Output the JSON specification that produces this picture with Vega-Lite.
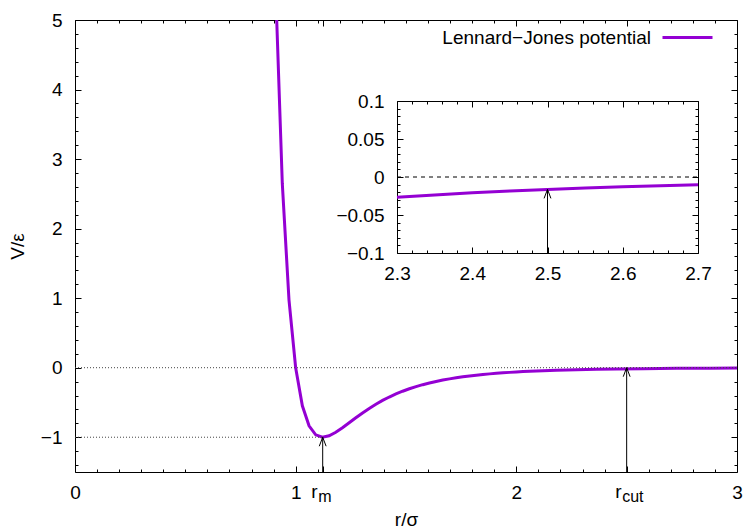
{
  "$schema": "https://vega.github.io/schema/vega-lite/v6.json",
  "width": 662,
  "height": 452,
  "autosize": {"type": "none"},
  "padding": {"left": 75, "top": 20, "right": 7, "bottom": 58},
  "background": "white",
  "config": {
    "view": {"stroke": null},
    "font": "Liberation Sans",
    "axis": {
      "labelFont": "Liberation Sans", "titleFont": "Liberation Sans",
      "labelFontSize": 19, "titleFontSize": 19, "titleFontWeight": "normal",
      "labelColor": "black", "titleColor": "black", "domainColor": "black", "tickColor": "black",
      "domainWidth": 1, "tickWidth": 1, "grid": false, "labelFlush": false, "labelOverlap": false, "labelBound": false
    },
    "text": {"font": "Liberation Sans", "color": "black"}
  },
  "datasets": {
    "lj": [
      {"r": 0.9091, "V": 5.4675}, {"r": 0.9394, "V": 2.6494}, {"r": 0.9697, "V": 0.9756}, {"r": 1.0, "V": 0},
      {"r": 1.0303, "V": -0.5484}, {"r": 1.0606, "V": -0.8359}, {"r": 1.0909, "V": -0.9652}, {"r": 1.1212, "V": -1.0},
      {"r": 1.1515, "V": -0.9798}, {"r": 1.1818, "V": -0.9293}, {"r": 1.2121, "V": -0.8635}, {"r": 1.2424, "V": -0.7919},
      {"r": 1.2727, "V": -0.7197}, {"r": 1.303, "V": -0.6503}, {"r": 1.3333, "V": -0.5852}, {"r": 1.3636, "V": -0.5254},
      {"r": 1.3939, "V": -0.4709}, {"r": 1.4242, "V": -0.4218}, {"r": 1.4545, "V": -0.3778}, {"r": 1.4848, "V": -0.3384},
      {"r": 1.5152, "V": -0.3033}, {"r": 1.5455, "V": -0.272}, {"r": 1.5758, "V": -0.2442}, {"r": 1.6061, "V": -0.2195},
      {"r": 1.6364, "V": -0.1975}, {"r": 1.6667, "V": -0.1779}, {"r": 1.697, "V": -0.1605}, {"r": 1.7273, "V": -0.145},
      {"r": 1.7576, "V": -0.1311}, {"r": 1.7879, "V": -0.1187}, {"r": 1.8182, "V": -0.1077}, {"r": 1.8485, "V": -0.0978},
      {"r": 1.8788, "V": -0.0889}, {"r": 1.9091, "V": -0.0809}, {"r": 1.9394, "V": -0.0738}, {"r": 1.9697, "V": -0.0673},
      {"r": 2.0, "V": -0.0615}, {"r": 2.0303, "V": -0.0563}, {"r": 2.0606, "V": -0.0516}, {"r": 2.0909, "V": -0.0473},
      {"r": 2.1212, "V": -0.0434}, {"r": 2.1818, "V": -0.0367}, {"r": 2.2727, "V": -0.0288}, {"r": 2.3636, "V": -0.0228},
      {"r": 2.4545, "V": -0.0182}, {"r": 2.5758, "V": -0.0137}, {"r": 2.7273, "V": -0.0097}, {"r": 2.8788, "V": -0.007},
      {"r": 3.0, "V": -0.0055}
    ],
    "inset": [
      {"r": 2.3, "V": -0.0268}, {"r": 2.35, "V": -0.0236}, {"r": 2.4, "V": -0.0208}, {"r": 2.45, "V": -0.0184},
      {"r": 2.5, "V": -0.0163}, {"r": 2.55, "V": -0.0145}, {"r": 2.6, "V": -0.0129}, {"r": 2.65, "V": -0.0115},
      {"r": 2.7, "V": -0.0103}
    ],
    "guides": [
      {"from": 0, "to": 3, "level": 0},
      {"from": 0, "to": 1.1225, "level": -1}
    ],
    "arrows": [
      {"r": 1.1225, "from": -1.5, "to": -1, "sub": "m"},
      {"r": 2.5, "from": -1.5, "to": 0, "sub": "cut"}
    ],
    "insetzero": [{"from": 2.3, "to": 2.7, "level": 0}],
    "insetarrow": [{"r": 2.5, "from": -0.1, "to": -0.0163}]
  },
  "layer": [
    {
      "data": {"name": "lj"},
      "mark": {"type": "line", "strokeWidth": 3, "clip": true},
      "encoding": {
        "x": {"field": "r", "type": "quantitative",
          "scale": {"domain": [0, 3], "nice": false, "zero": false},
          "axis": {"orient": "bottom", "values": [0, 1, 2, 3], "format": "d",
            "labelOverlap": false, "labelFlush": false,
            "tickSize": -6, "labelPadding": 17, "title": "r/σ", "titleX": 331, "titleY": 53, "titleBaseline": "alphabetic"}},
        "y": {"field": "V", "type": "quantitative",
          "scale": {"domain": [-1.5, 5], "nice": false, "zero": false},
          "axis": {"orient": "left", "values": [-1, 0, 1, 2, 3, 4, 5], "format": "d", "labelOverlap": false,
            "tickSize": -6, "labelPadding": 19, "title": "V/ε", "titleX": -58, "titleY": 226,
            "titleAngle": -90, "titleBaseline": "middle", "titleAlign": "center"}},
        "color": {"datum": "Lennard−Jones potential", "type": "nominal",
          "scale": {"range": ["#9400d3"]},
          "legend": {"orient": "none", "legendX": 586, "legendY": -9, "title": null, "symbolType": "stroke",
            "symbolSize": 2500, "symbolStrokeWidth": 3, "labelAlign": "right", "labelOffset": -63,
            "labelFontSize": 19, "labelFont": "Liberation Sans", "labelColor": "black", "padding": 0, "labelLimit": 400}}
      }
    },
    {
      "data": {"name": "guides"},
      "mark": {"type": "rule", "strokeDash": [1, 2], "color": "#444444", "strokeWidth": 1},
      "encoding": {
        "x": {"field": "from", "type": "quantitative",
          "scale": {"domain": [0, 3], "nice": false, "zero": false},
          "axis": {"orient": "bottom", "values": [0.1,0.2,0.3,0.4,0.5,0.6,0.7,0.8,0.9,1.1,1.2,1.3,1.4,1.5,1.6,1.7,1.8,1.9,2.1,2.2,2.3,2.4,2.5,2.6,2.7,2.8,2.9],
            "tickSize": -3, "labels": false, "domain": false, "title": null}},
        "x2": {"field": "to"},
        "y": {"field": "level", "type": "quantitative",
          "scale": {"domain": [-1.5, 5], "nice": false, "zero": false},
          "axis": {"orient": "left", "values": [-1.4,-1.2,-0.8,-0.6,-0.4,-0.2,0.2,0.4,0.6,0.8,1.2,1.4,1.6,1.8,2.2,2.4,2.6,2.8,3.2,3.4,3.6,3.8,4.2,4.4,4.6,4.8],
            "tickSize": -3, "labels": false, "domain": false, "title": null}}
      }
    },
    {
      "data": {"name": "arrows"},
      "mark": {"type": "rule", "color": "black", "strokeWidth": 1},
      "encoding": {
        "x": {"field": "r", "type": "quantitative",
          "scale": {"domain": [0, 3], "nice": false, "zero": false},
          "axis": {"orient": "top", "values": [0, 1, 1.1225, 2, 2.5, 3], "tickSize": -6, "labels": false, "title": null}},
        "y": {"field": "from", "type": "quantitative",
          "scale": {"domain": [-1.5, 5], "nice": false, "zero": false},
          "axis": {"orient": "right", "values": [-1, 0, 1, 2, 3, 4, 5], "tickSize": -6, "labels": false, "title": null}},
        "y2": {"field": "to"}
      }
    },
    {
      "data": {"name": "arrows"},
      "mark": {"type": "point", "shape": "M-0.38,1L0,0L0.38,1", "size": 324, "filled": false, "color": "black", "strokeWidth": 1, "opacity": 1},
      "encoding": {
        "x": {"field": "r", "type": "quantitative",
          "scale": {"domain": [0, 3], "nice": false, "zero": false},
          "axis": {"orient": "top", "values": [0.1,0.2,0.3,0.4,0.5,0.6,0.7,0.8,0.9,1.1,1.2,1.3,1.4,1.5,1.6,1.7,1.8,1.9,2.1,2.2,2.3,2.4,2.5,2.6,2.7,2.8,2.9],
            "tickSize": -3, "labels": false, "domain": false, "title": null}},
        "y": {"field": "to", "type": "quantitative",
          "scale": {"domain": [-1.5, 5], "nice": false, "zero": false},
          "axis": {"orient": "right", "values": [-1.4,-1.2,-0.8,-0.6,-0.4,-0.2,0.2,0.4,0.6,0.8,1.2,1.4,1.6,1.8,2.2,2.4,2.6,2.8,3.2,3.4,3.6,3.8,4.2,4.4,4.6,4.8],
            "tickSize": -3, "labels": false, "domain": false, "title": null}}
      }
    },
    {
      "data": {"name": "arrows"},
      "mark": {"type": "text", "text": "r", "align": "right", "baseline": "alphabetic", "dx": -5, "dy": 26, "fontSize": 19},
      "encoding": {
        "x": {"field": "r", "type": "quantitative", "scale": {"domain": [0, 3], "nice": false, "zero": false},
          "axis": {"orient": "bottom", "values": [1.1225, 2.5], "tickSize": -6, "labels": false, "domain": false, "title": null}},
        "y": {"field": "from", "type": "quantitative", "scale": {"domain": [-1.5, 5], "nice": false, "zero": false}, "axis": null}
      }
    },
    {
      "data": {"name": "arrows"},
      "mark": {"type": "text", "align": "left", "baseline": "alphabetic", "dx": -4.5, "dy": 30, "fontSize": 16},
      "encoding": {
        "text": {"field": "sub"},
        "x": {"field": "r", "type": "quantitative", "scale": {"domain": [0, 3], "nice": false, "zero": false}, "axis": null},
        "y": {"field": "from", "type": "quantitative", "scale": {"domain": [-1.5, 5], "nice": false, "zero": false}, "axis": null}
      }
    },
    {
      "data": {"name": "inset"},
      "mark": {"type": "line", "strokeWidth": 3, "color": "#9400d3", "clip": true},
      "encoding": {
        "x": {"field": "r", "type": "quantitative",
          "scale": {"domain": [2.3, 2.7], "nice": false, "zero": false, "range": [322, 623]},
          "axis": {"orient": "bottom", "offset": -219, "values": [2.3, 2.4, 2.5, 2.6, 2.7], "format": ".1f",
            "labelOverlap": false, "labelFlush": false,
            "tickSize": -6, "labelPadding": 17, "title": null}},
        "y": {"field": "V", "type": "quantitative",
          "scale": {"domain": [-0.1, 0.1], "nice": false, "zero": false, "range": [233, 81]},
          "axis": {"orient": "left", "offset": -322, "values": [-0.1, -0.05, 0, 0.05, 0.1], "format": ".2~f",
            "labelOverlap": false, "tickSize": -6, "labelPadding": 19, "title": null}}
      }
    },
    {
      "data": {"name": "insetzero"},
      "mark": {"type": "rule", "strokeDash": [4, 4], "color": "black", "strokeWidth": 1},
      "encoding": {
        "x": {"field": "from", "type": "quantitative",
          "scale": {"domain": [2.3, 2.7], "nice": false, "zero": false, "range": [322, 623]},
          "axis": {"orient": "bottom", "offset": -219, "values": [2.32,2.34,2.36,2.38,2.42,2.44,2.46,2.48,2.52,2.54,2.56,2.58,2.62,2.64,2.66,2.68],
            "tickSize": -3, "labels": false, "domain": false, "title": null}},
        "x2": {"field": "to"},
        "y": {"field": "level", "type": "quantitative",
          "scale": {"domain": [-0.1, 0.1], "nice": false, "zero": false, "range": [233, 81]},
          "axis": {"orient": "left", "offset": -322, "values": [-0.09,-0.08,-0.07,-0.06,-0.04,-0.03,-0.02,-0.01,0.01,0.02,0.03,0.04,0.06,0.07,0.08,0.09],
            "tickSize": -3, "labels": false, "domain": false, "title": null}}
      }
    },
    {
      "data": {"name": "insetarrow"},
      "mark": {"type": "rule", "color": "black", "strokeWidth": 1},
      "encoding": {
        "x": {"field": "r", "type": "quantitative",
          "scale": {"domain": [2.3, 2.7], "nice": false, "zero": false, "range": [322, 623]},
          "axis": {"orient": "top", "offset": -81, "values": [2.3, 2.4, 2.5, 2.6, 2.7], "tickSize": -6, "labels": false, "title": null}},
        "y": {"field": "from", "type": "quantitative",
          "scale": {"domain": [-0.1, 0.1], "nice": false, "zero": false, "range": [233, 81]},
          "axis": {"orient": "right", "offset": -39, "values": [-0.1, -0.05, 0, 0.05, 0.1], "tickSize": -6, "labels": false, "title": null}},
        "y2": {"field": "to"}
      }
    },
    {
      "data": {"name": "insetarrow"},
      "mark": {"type": "point", "shape": "M-0.38,1L0,0L0.38,1", "size": 324, "filled": false, "color": "black", "strokeWidth": 1, "opacity": 1},
      "encoding": {
        "x": {"field": "r", "type": "quantitative",
          "scale": {"domain": [2.3, 2.7], "nice": false, "zero": false, "range": [322, 623]},
          "axis": {"orient": "top", "offset": -81, "values": [2.32,2.34,2.36,2.38,2.42,2.44,2.46,2.48,2.52,2.54,2.56,2.58,2.62,2.64,2.66,2.68],
            "tickSize": -3, "labels": false, "domain": false, "title": null}},
        "y": {"field": "to", "type": "quantitative",
          "scale": {"domain": [-0.1, 0.1], "nice": false, "zero": false, "range": [233, 81]},
          "axis": {"orient": "right", "offset": -39, "values": [-0.09,-0.08,-0.07,-0.06,-0.04,-0.03,-0.02,-0.01,0.01,0.02,0.03,0.04,0.06,0.07,0.08,0.09],
            "tickSize": -3, "labels": false, "domain": false, "title": null}}
      }
    }
  ],
  "resolve": {
    "scale": {"x": "independent", "y": "independent", "color": "independent"},
    "axis": {"x": "independent", "y": "independent"}
  }
}
